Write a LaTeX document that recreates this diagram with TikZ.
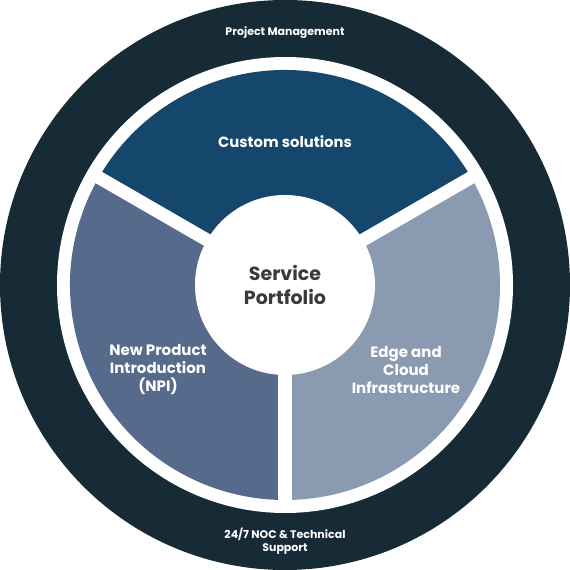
\documentclass[tikz,border=0pt]{standalone}
\usepackage{fontspec}
\setmainfont{Poppins}
\definecolor{outerdark}{HTML}{172B36}
\definecolor{topblue}{HTML}{15466B}
\definecolor{leftblue}{HTML}{566A8C}
\definecolor{rightblue}{HTML}{8A9AB0}
\definecolor{centertext}{HTML}{3A3A3A}
\tikzset{
  wlabel/.style={text=white, font=\bfseries\fontsize{15}{18}\selectfont, align=center},
  slabel/.style={text=white, font=\bfseries\fontsize{11}{13}\selectfont, align=center},
  gapbar/.style={draw=white, line width=13pt},
}
\begin{document}
\begin{tikzpicture}[x=1pt,y=1pt]
\useasboundingbox (-285,-285) rectangle (285,285);
\fill[outerdark] (0,0) circle (285);
\fill[white] (0,0) circle (228);
\fill[topblue] (0,0) -- (30:215) arc (30:150:215) -- cycle;
\fill[leftblue] (0,0) -- (150:215) arc (150:270:215) -- cycle;
\fill[rightblue] (0,0) -- (270:215) arc (270:390:215) -- cycle;
\draw[gapbar] (0,0) -- (30:222);
\draw[gapbar] (0,0) -- (150:222);
\draw[gapbar] (0,0) -- (270:222);
\fill[white] (0,0) circle (90);
\node[slabel] (pm) at (0,252) {Project Management};
\node[text=white, font=\bfseries\fontsize{14.8}{18}\selectfont] (cs) at (0,143) {Custom solutions};
\node[text=centertext, font=\bfseries\fontsize{19}{24}\selectfont, align=center] (sp) at (0,0) {Service\\Portfolio};
\node[wlabel] (npi) at (-127,-85) {New Product\\Introduction\\(NPI)};
\node[wlabel] (edge) at (121,-85) {Edge and\\Cloud\\Infrastructure};
\node[slabel] (noc) at (0,-256) {24/7 NOC \& Technical\\Support};
\end{tikzpicture}
\end{document}
